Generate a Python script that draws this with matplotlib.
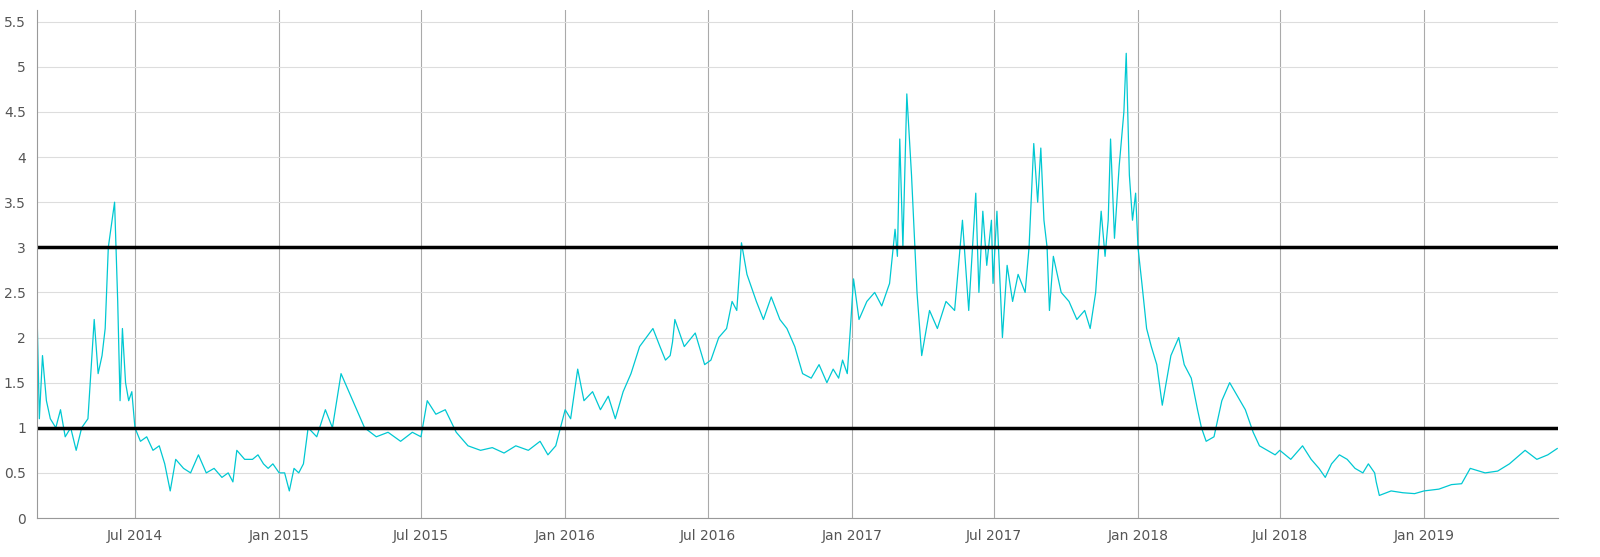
import matplotlib.pyplot as plt
import matplotlib.dates as mdates
import numpy as np

# (date, value)
dates = ['2014-02-26', '2014-03-01', '2014-03-05', '2014-03-10', '2014-03-15', '2014-03-22', '2014-03-28',
         '2014-04-03', '2014-04-10', '2014-04-17', '2014-04-24', '2014-05-02', '2014-05-10', '2014-05-15',
         '2014-05-20', '2014-05-24', '2014-05-28', '2014-06-05', '2014-06-09', '2014-06-12', '2014-06-15',
         '2014-06-19', '2014-06-23', '2014-06-27', '2014-07-01', '2014-07-08', '2014-07-16', '2014-07-24',
         '2014-08-01', '2014-08-08', '2014-08-15', '2014-08-22', '2014-09-01', '2014-09-10', '2014-09-20',
         '2014-09-30', '2014-10-10', '2014-10-20', '2014-10-28', '2014-11-03', '2014-11-08', '2014-11-18',
         '2014-11-28', '2014-12-05', '2014-12-12', '2014-12-18', '2014-12-24', '2014-12-28', '2015-01-01',
         '2015-01-08', '2015-01-14', '2015-01-20', '2015-01-26', '2015-02-01', '2015-02-07', '2015-02-18',
         '2015-03-01', '2015-03-10', '2015-03-21', '2015-04-05', '2015-04-20', '2015-05-05', '2015-05-20',
         '2015-06-05', '2015-06-20', '2015-07-01', '2015-07-09', '2015-07-20', '2015-08-01', '2015-08-15',
         '2015-08-30', '2015-09-15', '2015-09-30', '2015-10-15', '2015-10-30', '2015-11-15', '2015-11-30',
         '2015-12-10', '2015-12-20', '2016-01-01', '2016-01-08', '2016-01-17', '2016-01-25', '2016-02-05',
         '2016-02-15', '2016-02-25', '2016-03-05', '2016-03-15', '2016-03-25', '2016-04-05', '2016-04-22',
         '2016-05-01', '2016-05-08', '2016-05-14', '2016-05-17', '2016-05-20', '2016-06-01', '2016-06-15',
         '2016-06-27', '2016-07-05', '2016-07-15', '2016-07-25', '2016-08-01', '2016-08-07', '2016-08-13',
         '2016-08-20', '2016-09-01', '2016-09-10', '2016-09-20', '2016-10-01', '2016-10-10', '2016-10-20',
         '2016-10-30', '2016-11-10', '2016-11-20', '2016-11-30', '2016-12-08', '2016-12-15', '2016-12-20',
         '2016-12-26', '2016-12-30', '2017-01-03', '2017-01-10', '2017-01-20', '2017-01-30', '2017-02-08',
         '2017-02-18', '2017-02-25', '2017-02-28', '2017-03-03', '2017-03-07', '2017-03-12', '2017-03-18',
         '2017-03-25', '2017-03-31', '2017-04-10', '2017-04-20', '2017-05-01', '2017-05-12', '2017-05-22',
         '2017-05-30', '2017-06-08', '2017-06-12', '2017-06-17', '2017-06-22', '2017-06-28', '2017-06-30',
         '2017-07-05', '2017-07-12', '2017-07-18', '2017-07-25', '2017-08-01', '2017-08-10', '2017-08-15',
         '2017-08-21', '2017-08-26', '2017-08-30', '2017-09-03', '2017-09-07', '2017-09-10', '2017-09-15',
         '2017-09-25', '2017-10-05', '2017-10-15', '2017-10-25', '2017-11-01', '2017-11-08', '2017-11-15',
         '2017-11-20', '2017-11-24', '2017-11-27', '2017-12-02', '2017-12-08', '2017-12-14', '2017-12-17',
         '2017-12-21', '2017-12-25', '2017-12-29', '2018-01-01', '2018-01-06', '2018-01-12', '2018-01-18',
         '2018-01-25', '2018-02-01', '2018-02-12', '2018-02-22', '2018-03-01', '2018-03-10', '2018-03-18',
         '2018-03-23', '2018-03-29', '2018-04-08', '2018-04-18', '2018-04-28', '2018-05-08', '2018-05-18',
         '2018-05-28', '2018-06-05', '2018-06-15', '2018-06-25', '2018-07-01', '2018-07-15', '2018-07-30',
         '2018-08-10', '2018-08-20', '2018-08-28', '2018-09-05', '2018-09-15', '2018-09-25', '2018-10-05',
         '2018-10-15', '2018-10-22', '2018-10-30', '2018-11-01', '2018-11-05', '2018-11-20', '2018-12-05',
         '2018-12-20', '2019-01-01', '2019-01-20', '2019-02-05', '2019-02-18', '2019-03-01', '2019-03-20',
         '2019-04-05', '2019-04-20', '2019-05-10', '2019-05-25', '2019-06-08', '2019-06-20']
values = [2.3, 1.1, 1.8, 1.3, 1.1, 1.0, 1.2, 0.9, 1.0, 0.75, 1.0, 1.1, 2.2, 1.6, 1.8, 2.1, 3.0, 3.5,
          2.4, 1.3, 2.1, 1.5, 1.3, 1.4, 1.0, 0.85, 0.9, 0.75, 0.8, 0.6, 0.3, 0.65, 0.55, 0.5, 0.7, 0.5,
          0.55, 0.45, 0.5, 0.4, 0.75, 0.65, 0.65, 0.7, 0.6, 0.55, 0.6, 0.55, 0.5, 0.5, 0.3, 0.55, 0.5,
          0.6, 1.0, 0.9, 1.2, 1.0, 1.6, 1.3, 1.0, 0.9, 0.95, 0.85, 0.95, 0.9, 1.3, 1.15, 1.2, 0.95, 0.8,
          0.75, 0.78, 0.72, 0.8, 0.75, 0.85, 0.7, 0.8, 1.2, 1.1, 1.65, 1.3, 1.4, 1.2, 1.35, 1.1, 1.4,
          1.6, 1.9, 2.1, 1.9, 1.75, 1.8, 1.95, 2.2, 1.9, 2.05, 1.7, 1.75, 2.0, 2.1, 2.4, 2.3, 3.05, 2.7,
          2.4, 2.2, 2.45, 2.2, 2.1, 1.9, 1.6, 1.55, 1.7, 1.5, 1.65, 1.55, 1.75, 1.6, 2.1, 2.65, 2.2,
          2.4, 2.5, 2.35, 2.6, 3.2, 2.9, 4.2, 3.0, 4.7, 3.8, 2.5, 1.8, 2.3, 2.1, 2.4, 2.3, 3.3, 2.3,
          3.6, 2.5, 3.4, 2.8, 3.3, 2.6, 3.4, 2.0, 2.8, 2.4, 2.7, 2.5, 3.0, 4.15, 3.5, 4.1, 3.3, 3.0,
          2.3, 2.9, 2.5, 2.4, 2.2, 2.3, 2.1, 2.5, 3.4, 2.9, 3.3, 4.2, 3.1, 3.9, 4.5, 5.15, 3.8, 3.3,
          3.6, 3.0, 2.6, 2.1, 1.9, 1.7, 1.25, 1.8, 2.0, 1.7, 1.55, 1.2, 1.0, 0.85, 0.9, 1.3, 1.5, 1.35,
          1.2, 0.95, 0.8, 0.75, 0.7, 0.75, 0.65, 0.8, 0.65, 0.55, 0.45, 0.6, 0.7, 0.65, 0.55, 0.5, 0.6,
          0.5, 0.4, 0.25, 0.3, 0.28, 0.27, 0.3, 0.32, 0.37, 0.38, 0.55, 0.5, 0.52, 0.6, 0.75, 0.65,
          0.7, 0.77]
levels = [1, 3]

x = np.array(dates, dtype='datetime64[D]')

fig = plt.figure(figsize=(16, 5.57), dpi=100)
ax = fig.add_axes([37/1600, 1 - 518/557, (1558-37)/1600, (518-10)/557])

ax.plot(x, values, color='#00c8d2', lw=0.9)
for lv in levels:
    ax.axhline(lv, color='black', lw=2.5)

ax.set_xlim(np.datetime64('2014-02-26'), np.datetime64('2019-06-21'))
ax.set_ylim(0, 5.63)
ax.set_yticks(np.arange(0, 5.6, 0.5))
ax.set_yticklabels(['0', '0.5', '1', '1.5', '2', '2.5', '3', '3.5', '4', '4.5', '5', '5.5'])
ax.xaxis.set_major_locator(mdates.MonthLocator(bymonth=[1, 7]))
ax.xaxis.set_major_formatter(mdates.DateFormatter('%b %Y'))
ax.grid(axis='y', color='#dddddd', lw=0.8)
ax.grid(axis='x', color='#aaaaaa', lw=0.8)
ax.set_axisbelow(True)
ax.tick_params(length=0, labelsize=10, colors='#555555', pad=8)
for s in ['top', 'right']:
    ax.spines[s].set_visible(False)
ax.spines['left'].set_color('#999999')
ax.spines['bottom'].set_color('#999999')

plt.savefig('out.png')
